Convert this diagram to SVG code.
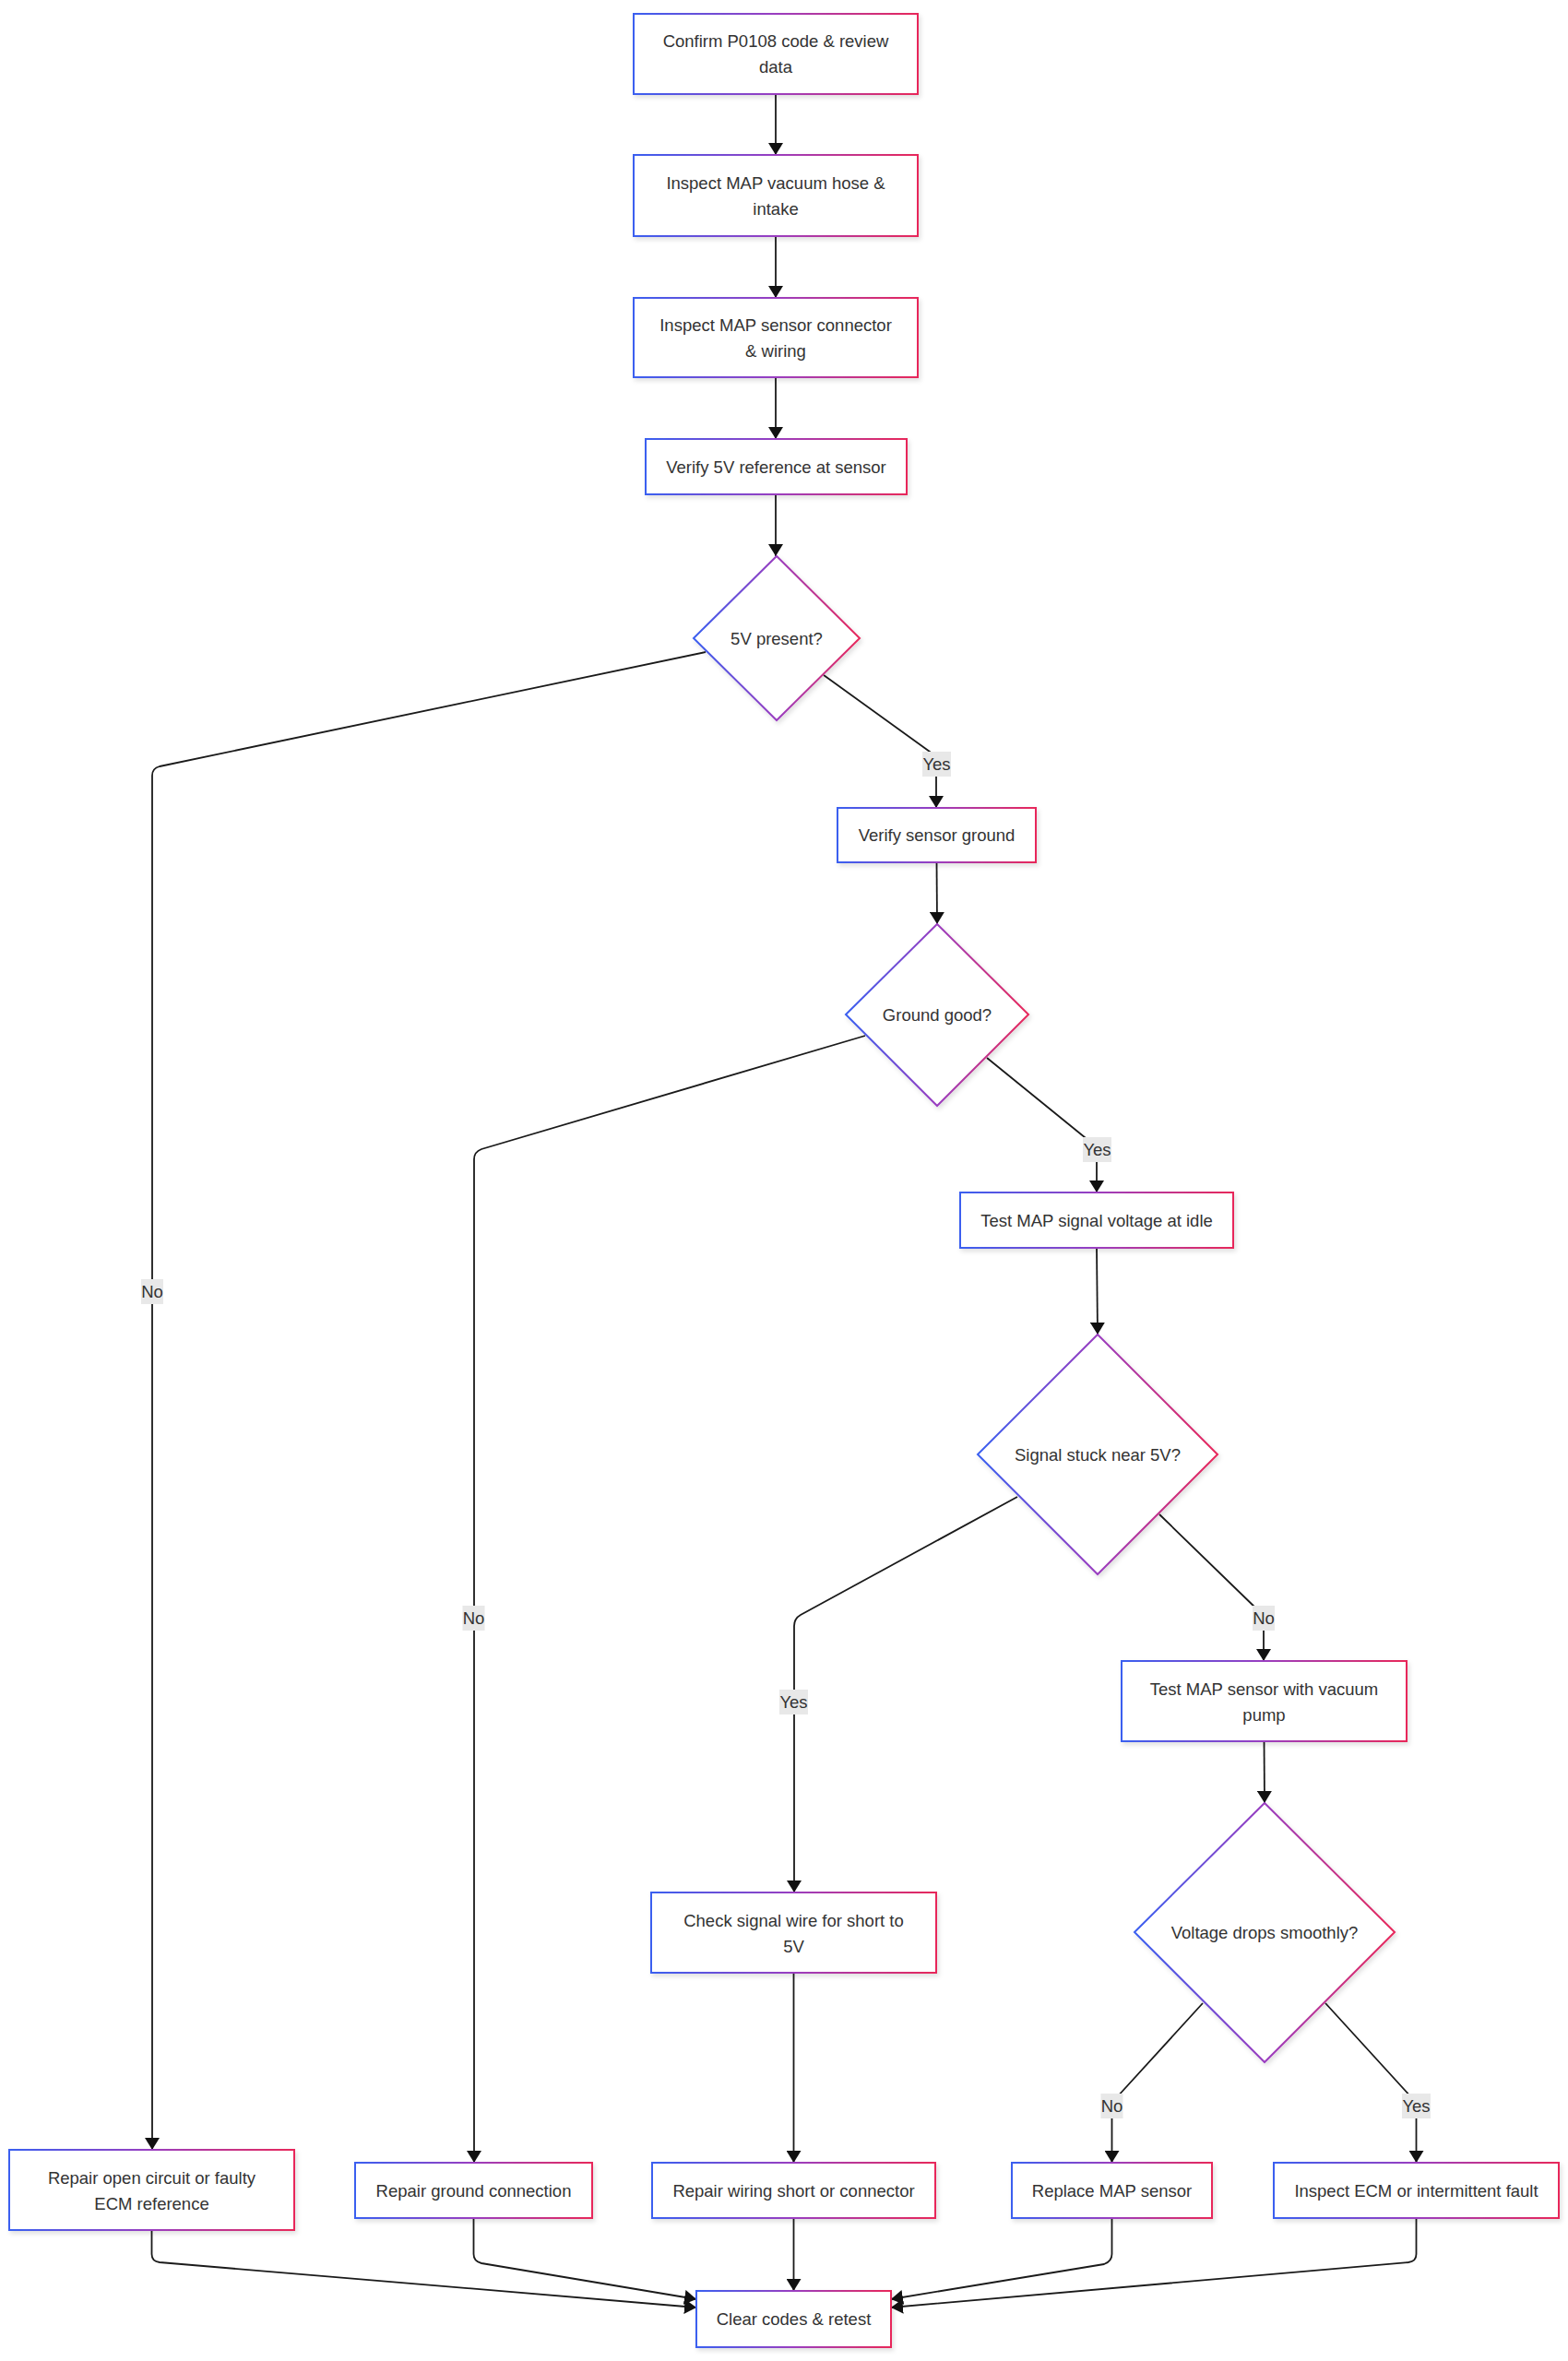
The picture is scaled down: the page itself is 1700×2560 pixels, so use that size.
<svg xmlns="http://www.w3.org/2000/svg" width="1700" height="2560" viewBox="0 0 1700 2560">
<defs>
<linearGradient id="g" x1="0" y1="0" x2="1" y2="0">
<stop offset="0" stop-color="#3a5ff0"/>
<stop offset="0.5" stop-color="#9a3ec0"/>
<stop offset="1" stop-color="#e8285a"/>
</linearGradient>
<filter id="sh" x="-10%" y="-10%" width="125%" height="130%">
<feDropShadow dx="2" dy="3" stdDeviation="2.5" flood-color="#000" flood-opacity="0.12"/>
</filter>
<marker id="arr" viewBox="0 0 13 16" refX="13" refY="8" markerWidth="13" markerHeight="16" markerUnits="userSpaceOnUse" orient="auto">
<path d="M0,0 L13,8 L0,16 z" fill="#111"/>
</marker>
</defs>
<style>
.n rect, .n polygon { fill: #fff; stroke: url(#g); stroke-width: 2; filter: url(#sh); }
.n text { font-family: "Liberation Sans", Arial, sans-serif; font-size: 18.5px; fill: #333; text-anchor: middle; }
.e path { fill: none; stroke: #1a1a1a; stroke-width: 1.8; marker-end: url(#arr); }
.lb rect { fill: #e8e8e8; }
.lb text { font-family: "Liberation Sans", Arial, sans-serif; font-size: 18.5px; fill: #333; text-anchor: middle; }
</style>
<rect width="1700" height="2560" fill="#fff"/>

<g id="connectors" class="e">
<path d="M841,102 L841,168"/>
<path d="M841,256 L841,323"/>
<path d="M841,409 L841,476"/>
<path d="M841,536 L841,603"/>
<path d="M765,707 L173,831 Q165,833 165,841 L165,2331"/>
<path d="M893,732 L1008,815 Q1015,820 1015,828 L1015,876"/>
<path d="M1015.5,935 L1016,1002"/>
<path d="M938,1123 L522,1246 Q514,1249 514,1257 L514,2345"/>
<path d="M1070,1147 L1182,1238 Q1189,1243 1189,1251 L1189,1293"/>
<path d="M1189,1353 L1190,1447"/>
<path d="M1103,1623 L868,1751 Q861,1755 861,1763 L861,2052"/>
<path d="M1257,1642 L1364,1746 Q1370,1752 1370,1760 L1370,1801"/>
<path d="M1370.5,1888 L1371,1955"/>
<path d="M1304,2172 L1210,2275 Q1205.5,2280 1205.5,2288 L1205.5,2345"/>
<path d="M1437,2172 L1531,2275 Q1535.5,2280 1535.5,2288 L1535.5,2345"/>
<path d="M860.5,2139 L860.5,2345"/>
<path d="M860.5,2405 L860.5,2484"/>
<path d="M164.5,2418 L164.5,2444 Q164.5,2452 173,2453 L755,2502"/>
<path d="M513.5,2405 L513.5,2444 Q513.5,2452 522,2454 L755,2493"/>
<path d="M1205.5,2405 L1205.5,2444 Q1205.5,2452 1197,2455 L966,2493"/>
<path d="M1535.5,2405 L1535.5,2444 Q1535.5,2452 1527,2453 L966,2502"/>
</g>

<g id="edge-labels" class="lb">
<g id="l-no1"><rect x="153" y="1387" width="24" height="27"/><text x="165" y="1407">No</text></g>
<g id="l-yes1"><rect x="1000" y="815" width="31" height="27"/><text x="1015.5" y="835">Yes</text></g>
<g id="l-no2"><rect x="501.5" y="1741" width="24" height="27"/><text x="513.5" y="1761">No</text></g>
<g id="l-yes2"><rect x="1174" y="1233" width="31" height="27"/><text x="1189.5" y="1253">Yes</text></g>
<g id="l-yes3"><rect x="845" y="1832" width="31" height="27"/><text x="860.5" y="1852">Yes</text></g>
<g id="l-no3"><rect x="1358" y="1741" width="24" height="27"/><text x="1370" y="1761">No</text></g>
<g id="l-no4"><rect x="1193.5" y="2270" width="24" height="27"/><text x="1205.5" y="2290">No</text></g>
<g id="l-yes4"><rect x="1520" y="2270" width="31" height="27"/><text x="1535.5" y="2290">Yes</text></g>
</g>

<g id="n1" class="n"><rect x="687" y="15" width="308" height="87"/><text x="841" y="51">Confirm P0108 code &amp; review</text><text x="841" y="79">data</text></g>
<g id="n2" class="n"><rect x="687" y="168" width="308" height="88"/><text x="841" y="205">Inspect MAP vacuum hose &amp;</text><text x="841" y="233">intake</text></g>
<g id="n3" class="n"><rect x="687" y="323" width="308" height="86"/><text x="841" y="359">Inspect MAP sensor connector</text><text x="841" y="387">&amp; wiring</text></g>
<g id="n4" class="n"><rect x="700" y="476" width="283" height="60"/><text x="841.5" y="513">Verify 5V reference at sensor</text></g>
<g id="d1" class="n"><polygon points="842,603 932,692 842,781 752,692"/><text x="842" y="698.5">5V present?</text></g>
<g id="n5" class="n"><rect x="908" y="876" width="215" height="59"/><text x="1015.5" y="912">Verify sensor ground</text></g>
<g id="d2" class="n"><polygon points="1016,1002 1115,1100 1016,1199 917,1100"/><text x="1016" y="1106.5">Ground good?</text></g>
<g id="n6" class="n"><rect x="1041" y="1293" width="296" height="60"/><text x="1189" y="1329.5">Test MAP signal voltage at idle</text></g>
<g id="d3" class="n"><polygon points="1190,1447 1320,1577 1190,1707 1060,1577"/><text x="1190" y="1583.5">Signal stuck near 5V?</text></g>
<g id="n7" class="n"><rect x="1216" y="1801" width="309" height="87"/><text x="1370.5" y="1837.5">Test MAP sensor with vacuum</text><text x="1370.5" y="1865.5">pump</text></g>
<g id="d4" class="n"><polygon points="1371,1955 1512,2095 1371,2236 1230,2095"/><text x="1371" y="2101.5">Voltage drops smoothly?</text></g>
<g id="n8" class="n"><rect x="706" y="2052" width="309" height="87"/><text x="860.5" y="2088.5">Check signal wire for short to</text><text x="860.5" y="2116.5">5V</text></g>
<g id="n9" class="n"><rect x="10" y="2331" width="309" height="87"/><text x="164.5" y="2367.5">Repair open circuit or faulty</text><text x="164.5" y="2395.5">ECM reference</text></g>
<g id="n10" class="n"><rect x="385" y="2345" width="257" height="60"/><text x="513.5" y="2381.5">Repair ground connection</text></g>
<g id="n11" class="n"><rect x="707" y="2345" width="307" height="60"/><text x="860.5" y="2381.5">Repair wiring short or connector</text></g>
<g id="n12" class="n"><rect x="1097" y="2345" width="217" height="60"/><text x="1205.5" y="2381.5">Replace MAP sensor</text></g>
<g id="n13" class="n"><rect x="1381" y="2345" width="309" height="60"/><text x="1535.5" y="2381.5">Inspect ECM or intermittent fault</text></g>
<g id="n14" class="n"><rect x="755" y="2484" width="211" height="61"/><text x="860.5" y="2521">Clear codes &amp; retest</text></g>
</svg>
